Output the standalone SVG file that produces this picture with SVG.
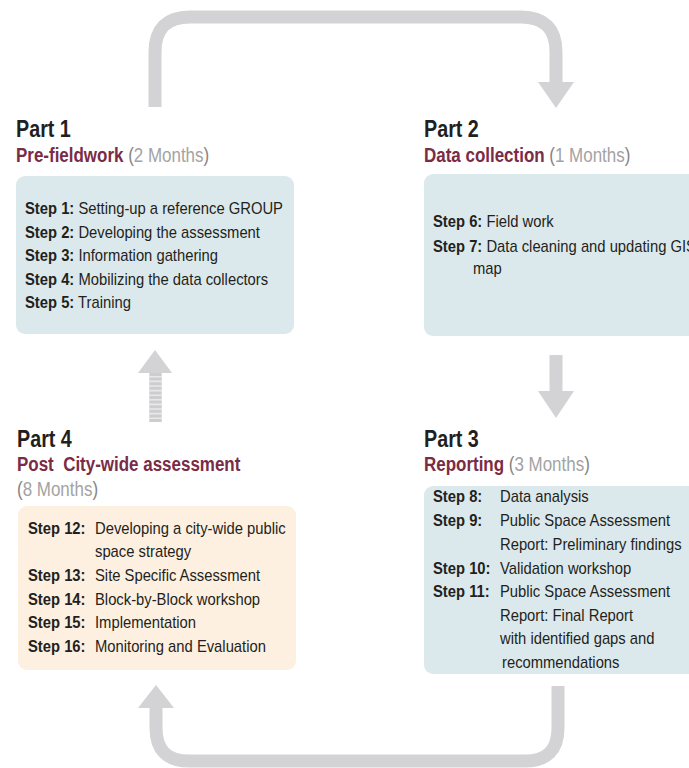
<svg xmlns="http://www.w3.org/2000/svg" width="689" height="768" viewBox="0 0 689 768">
<style>
text{font-family:"Liberation Sans",Arial,sans-serif;fill:#231f20}
.part{font-size:23.5px;font-weight:bold}
.sub{font-size:19.5px;font-weight:bold;fill:#7a2b45}
.mo{font-weight:normal;fill:#a3a3a3}
.pa{fill:#858585}
.st{font-size:17px}
.b{font-weight:bold}
.blue{fill:#dce9ec}
.peach{fill:#fdf0e1}
.arr{fill:none;stroke:#d3d3d5;stroke-width:13}
.head{fill:#d3d3d5}
</style>
<g id="connectors">
<path class="arr" d="M155,107 V52 Q155,17 190,17 H521 Q556,17 556,52 V84"/>
<polygon class="head" points="538,82 574,82 556,108"/>
<path class="arr" d="M556,355 V393"/>
<polygon class="head" points="538,391 574,391 556,418"/>
<rect x="149" y="372" width="13" height="50" fill="#e8e8e9"/>
<line x1="155.5" y1="373" x2="155.5" y2="422" stroke="#cdcdcf" stroke-width="12" stroke-dasharray="3 1.6"/>
<polygon class="head" points="155,350 138,373 172,373"/>
<path class="arr" d="M558,686 V728 Q558,761 525,761 H189 Q156,761 156,728 V705"/>
<polygon class="head" points="156,685 138,708 174,708"/>
</g>
<g id="part1">
<text class="part" transform="matrix(0.84 0 0 1 16 137)">Part 1</text>
<text class="sub" transform="matrix(0.87 0 0 1 16 162)">Pre-fieldwork <tspan class="mo"><tspan class="pa">(</tspan>2 Months<tspan class="pa">)</tspan></tspan></text>
<rect class="blue" x="16" y="176" width="278" height="158" rx="9"/>
<text class="st" transform="matrix(0.87 0 0 1 25 214)"><tspan class="b">Step 1:</tspan> Setting-up a reference GROUP</text>
<text class="st" transform="matrix(0.87 0 0 1 25 237.5)"><tspan class="b">Step 2:</tspan> Developing the assessment</text>
<text class="st" transform="matrix(0.87 0 0 1 25 261)"><tspan class="b">Step 3:</tspan> Information gathering</text>
<text class="st" transform="matrix(0.87 0 0 1 25 284.5)"><tspan class="b">Step 4:</tspan> Mobilizing the data collectors</text>
<text class="st" transform="matrix(0.87 0 0 1 25 308)"><tspan class="b">Step 5:</tspan> Training</text>
</g>
<g id="part2">
<text class="part" transform="matrix(0.84 0 0 1 424 137)">Part 2</text>
<text class="sub" transform="matrix(0.87 0 0 1 424 162)">Data collection <tspan class="mo"><tspan class="pa">(</tspan>1 Months<tspan class="pa">)</tspan></tspan></text>
<rect class="blue" x="424" y="174" width="280" height="162" rx="9"/>
<text class="st" transform="matrix(0.87 0 0 1 433 227)"><tspan class="b">Step 6:</tspan> Field work</text>
<text class="st" transform="matrix(0.87 0 0 1 433 251.5)"><tspan class="b">Step 7:</tspan> Data cleaning and updating GIS</text>
<text class="st" transform="matrix(0.87 0 0 1 473 274)">map</text>
</g>
<g id="part3">
<text class="part" transform="matrix(0.84 0 0 1 424 447)">Part 3</text>
<text class="sub" transform="matrix(0.87 0 0 1 424 471)">Reporting <tspan class="mo"><tspan class="pa">(</tspan>3 Months<tspan class="pa">)</tspan></tspan></text>
<rect class="blue" x="424" y="486" width="280" height="188" rx="9"/>
<text class="st b" transform="matrix(0.87 0 0 1 433 502)">Step 8:</text><text class="st" transform="matrix(0.87 0 0 1 500 502)">Data analysis</text>
<text class="st b" transform="matrix(0.87 0 0 1 433 526)">Step 9:</text><text class="st" transform="matrix(0.87 0 0 1 500 526)">Public Space Assessment</text>
<text class="st" transform="matrix(0.87 0 0 1 500 550)">Report: Preliminary findings</text>
<text class="st b" transform="matrix(0.87 0 0 1 433 574)">Step 10:</text><text class="st" transform="matrix(0.87 0 0 1 500 574)">Validation workshop</text>
<text class="st b" transform="matrix(0.87 0 0 1 433 597)">Step 11:</text><text class="st" transform="matrix(0.87 0 0 1 500 597)">Public Space Assessment</text>
<text class="st" transform="matrix(0.87 0 0 1 500 621)">Report: Final Report</text>
<text class="st" transform="matrix(0.87 0 0 1 500 644)">with identified gaps and</text>
<text class="st" transform="matrix(0.87 0 0 1 502 668)">recommendations</text>
</g>
<g id="part4">
<text class="part" transform="matrix(0.84 0 0 1 17 447)">Part 4</text>
<text class="sub" transform="matrix(0.87 0 0 1 17 471)" xml:space="preserve">Post  City-wide assessment</text>
<text class="sub mo" transform="matrix(0.87 0 0 1 17 496)"><tspan class="pa">(</tspan>8 Months<tspan class="pa">)</tspan></text>
<rect class="peach" x="18" y="506" width="278" height="164" rx="9"/>
<text class="st b" transform="matrix(0.87 0 0 1 28 534)">Step 12:</text><text class="st" transform="matrix(0.87 0 0 1 95 534)">Developing a city-wide public</text>
<text class="st" transform="matrix(0.87 0 0 1 95 557)">space strategy</text>
<text class="st b" transform="matrix(0.87 0 0 1 28 581)">Step 13:</text><text class="st" transform="matrix(0.87 0 0 1 95 581)">Site Specific Assessment</text>
<text class="st b" transform="matrix(0.87 0 0 1 28 605)">Step 14:</text><text class="st" transform="matrix(0.87 0 0 1 95 605)">Block-by-Block workshop</text>
<text class="st b" transform="matrix(0.87 0 0 1 28 628)">Step 15:</text><text class="st" transform="matrix(0.87 0 0 1 95 628)">Implementation</text>
<text class="st b" transform="matrix(0.87 0 0 1 28 652)">Step 16:</text><text class="st" transform="matrix(0.87 0 0 1 95 652)">Monitoring and Evaluation</text>
</g>
</svg>
